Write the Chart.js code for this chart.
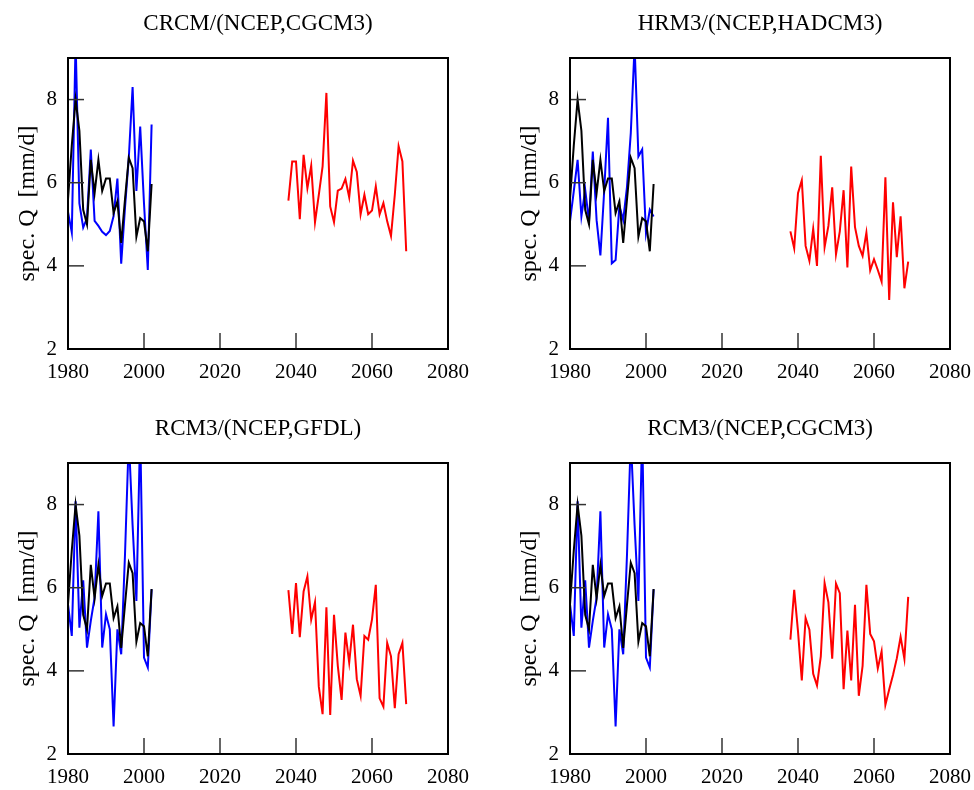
<!DOCTYPE html>
<html>
<head>
<meta charset="utf-8">
<script src="https://cdn.jsdelivr.net/npm/chart.js@4"></script>
<style>
  html, body { margin: 0; padding: 0; background: #fff; overflow: hidden; }
  body { width: 974px; height: 790px; position: relative; }
  canvas { position: absolute; }
</style>
</head>
<body>
<canvas id="p1" width="472" height="385" style="left:0;top:0"></canvas>
<canvas id="p2" width="472" height="385" style="left:502px;top:0"></canvas>
<canvas id="p3" width="472" height="385" style="left:0;top:405px"></canvas>
<canvas id="p4" width="472" height="385" style="left:502px;top:405px"></canvas>
<script>
// years of the control run and of the scenario run
const histYears = [1980, 1981, 1982, 1983, 1984, 1985, 1986, 1987, 1988, 1989, 1990, 1991,
  1992, 1993, 1994, 1995, 1996, 1997, 1998, 1999, 2000, 2001, 2002];
const futYears = [2038, 2039, 2040, 2041, 2042, 2043, 2044, 2045, 2046, 2047, 2048, 2049,
  2050, 2051, 2052, 2053, 2054, 2055, 2056, 2057, 2058, 2059, 2060, 2061, 2062, 2063,
  2064, 2065, 2066, 2067, 2068, 2069];

const xTicks = [1980, 2000, 2020, 2040, 2060, 2080];
const yTicks = [2, 4, 6, 8];

// observed specific discharge (black)
const observedQ = [5.6, 6.9, 8.0, 7.25, 5.35, 5.0, 6.55, 5.75, 6.55, 5.8, 6.1, 6.1,
  5.27, 5.55, 4.55, 5.6, 6.6, 6.35, 4.7, 5.15, 5.07, 4.35, 5.97];

// NCEP driven runs (blue)
const crcmNcep = [5.3, 4.8, 9.4, 5.5, 4.92, 5.15, 6.8, 5.08, 4.96, 4.82, 4.74, 4.84,
  5.2, 6.1, 4.05, 5.4, 6.6, 8.3, 5.8, 7.35, 5.5, 3.9, 7.4];
const hrm3Ncep = [5.07, 5.8, 6.55, 5.19, 5.83, 5.07, 6.75, 5.1, 4.25, 5.8, 7.56, 4.06,
  4.14, 5.45, 5.1, 5.9, 7.2, 9.3, 6.63, 6.8, 4.79, 5.35, 5.19];
const rcm3Ncep = [5.6, 4.84, 8.08, 5.04, 6.18, 4.56, 5.2, 5.76, 7.84, 4.56, 5.36, 5.0,
  2.66, 5.0, 4.4, 6.8, 9.6, 7.5, 5.68, 9.8, 4.32, 4.08, 5.96];

// GCM driven scenario runs (red)
const crcmCgcm3 = [5.57, 6.51, 6.51, 5.12, 6.67, 5.87, 6.41, 5.05, 5.71, 6.39, 8.16, 5.43,
  5.05, 5.81, 5.86, 6.09, 5.65, 6.53, 6.26, 5.24, 5.71, 5.24, 5.33, 5.91, 5.24, 5.51,
  5.07, 4.72, 5.71, 6.88, 6.51, 4.35];
const hrm3Hadcm3 = [4.83, 4.42, 5.75, 6.06, 4.48, 4.12, 4.89, 4.0, 6.65, 4.45, 4.96, 5.89,
  4.28, 4.83, 5.82, 3.96, 6.39, 4.93, 4.48, 4.24, 4.8, 3.89, 4.16, 3.9, 3.62, 6.13,
  3.18, 5.53, 4.21, 5.19, 3.46, 4.1];
const rcm3Gfdl = [5.94, 4.89, 6.11, 4.81, 5.91, 6.27, 5.23, 5.65, 3.62, 2.96, 5.53, 2.94,
  5.35, 4.12, 3.3, 4.92, 4.2, 5.11, 3.8, 3.4, 4.84, 4.75, 5.24, 6.07, 3.34, 3.14,
  4.67, 4.35, 3.1, 4.4, 4.67, 3.2];
const rcm3Cgcm3 = [4.75, 5.95, 4.95, 3.77, 5.27, 4.99, 3.93, 3.65, 4.35, 6.11, 5.65, 4.29,
  6.1, 5.87, 3.56, 4.97, 3.77, 5.59, 3.4, 4.12, 6.07, 4.89, 4.71, 4.06, 4.47, 3.18,
  3.55, 3.9, 4.3, 4.82, 4.29, 5.78];

Chart.defaults.font.family = "'Liberation Serif', 'Times New Roman', serif";
Chart.defaults.color = '#000';

// box around the plot + ticks pointing inwards
const framePlugin = {
  id: 'frame',
  afterDatasetsDraw(chart) {
    const { ctx, chartArea: a, scales: { x, y } } = chart;
    ctx.save();
    ctx.strokeStyle = '#333';
    ctx.lineWidth = 1.5;
    x.ticks.forEach(t => {
      const px = x.getPixelForValue(t.value);
      ctx.beginPath();
      ctx.moveTo(px, a.bottom);
      ctx.lineTo(px, a.bottom - 16);
      ctx.stroke();
    });
    y.ticks.forEach(t => {
      const py = y.getPixelForValue(t.value);
      ctx.beginPath();
      ctx.moveTo(a.left, py);
      ctx.lineTo(a.left + 16, py);
      ctx.stroke();
    });
    ctx.strokeStyle = '#000';
    ctx.lineWidth = 2;
    ctx.strokeRect(a.left, a.top, a.right - a.left, a.bottom - a.top);
    ctx.restore();
  }
};

function toPoints(years, values) {
  return years.map((yr, i) => ({ x: yr, y: values[i] }));
}

function series(data, color) {
  return {
    data: data,
    borderColor: color,
    borderWidth: 2,
    pointRadius: 0,
    fill: false,
    tension: 0,
    clip: 0
  };
}

function makePanel(id, title, ncep, future) {
  new Chart(document.getElementById(id).getContext('2d'), {
    type: 'line',
    data: {
      datasets: [
        series(toPoints(histYears, observedQ), '#000000'),
        series(toPoints(histYears, ncep), '#0000ff'),
        series(toPoints(futYears, future), '#ff0000')
      ]
    },
    options: {
      responsive: false,
      animation: false,
      layout: { padding: { left: 0, right: 24, top: 0, bottom: 0 } },
      plugins: {
        legend: { display: false },
        tooltip: { enabled: false },
        title: {
          display: true,
          fullSize: false,
          text: title,
          font: { size: 23, weight: 'normal' },
          color: '#000',
          padding: { top: 10, bottom: 20.4 }
        }
      },
      scales: {
        x: {
          type: 'linear',
          min: 1980,
          max: 2080,
          afterFit: s => { s.height = 36; s.paddingLeft = 0; s.paddingRight = 0; },
          afterBuildTicks: s => { s.ticks = xTicks.map(v => ({ value: v })); },
          grid: { display: false, drawTicks: false },
          border: { display: false },
          ticks: { font: { size: 21 }, padding: 11, maxRotation: 0, callback: v => String(v) }
        },
        y: {
          min: 2,
          max: 9,
          afterFit: s => { s.width = 68; s.paddingTop = 0; s.paddingBottom = 0; },
          afterBuildTicks: s => { s.ticks = yTicks.map(v => ({ value: v })); },
          grid: { display: false, drawTicks: false },
          border: { display: false },
          ticks: { font: { size: 21 }, padding: 11, callback: v => String(v) },
          title: {
            display: true,
            text: 'spec. Q  [mm/d]',
            font: { size: 24 },
            padding: { top: 13, bottom: 0 }
          }
        }
      }
    },
    plugins: [framePlugin]
  });
}

makePanel('p1', 'CRCM/(NCEP,CGCM3)', crcmNcep, crcmCgcm3);
makePanel('p2', 'HRM3/(NCEP,HADCM3)', hrm3Ncep, hrm3Hadcm3);
makePanel('p3', 'RCM3/(NCEP,GFDL)', rcm3Ncep, rcm3Gfdl);
makePanel('p4', 'RCM3/(NCEP,CGCM3)', rcm3Ncep, rcm3Cgcm3);
</script>
</body>
</html>
